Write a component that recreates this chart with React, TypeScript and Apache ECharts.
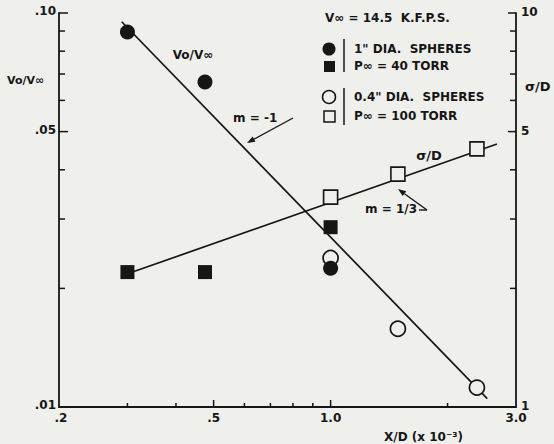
import React, { useEffect, useRef } from "react";
import * as echarts from "echarts";

// ---- data ----
const xOneInch = [0.3, 0.475, 1.0];
const vOneInch = [0.0895, 0.0668, 0.0225];
const xPointFour = [1.0, 1.49, 2.38];
const vPointFour = [0.0239, 0.0158, 0.0112];
const xForty = [0.3, 0.475, 1.0];
const sForty = [2.2, 2.2, 2.86];
const xHundred = [1.0, 1.49, 2.38];
const sHundred = [3.41, 3.9, 4.52];
const vFitX = [0.29, 2.53];
const vFitY = [0.095, 0.0105];
const sFitX = [0.289, 2.68];
const sFitY = [2.15, 4.65];

const xTickValues = [0.2, 0.3, 0.4, 0.5, 0.6, 0.7, 0.8, 0.9, 1.0, 2.0, 3.0];
const xTickLabels = [".2", "", "", ".5", "", "", "", "", "1.0", "", "3.0"];
const xTickMajor = [1, 0, 0, 1, 0, 0, 0, 0, 1, 0, 1];
const leftTickValues = [0.01, 0.02, 0.03, 0.04, 0.05, 0.06, 0.07, 0.08, 0.09, 0.1];
const leftTickLabels = [".01", "", "", "", ".05", "", "", "", "", ".10"];
const rightTickValues = [1, 2, 3, 4, 5, 6, 7, 8, 9, 10];
const rightTickLabels = ["1", "", "", "", "5", "", "", "", "", "10"];

const BG = "#efefec";
const INK = "#161616";
const FONT = "DejaVu Sans";
const F = (size: number) => `bold ${size}px "${FONT}"`;

function arrow(ax: number, ay: number, bx: number, by: number) {
  const dx = bx - ax, dy = by - ay;
  const len = Math.hypot(dx, dy);
  const ux = dx / len, uy = dy / len;
  const px = -uy, py = ux;
  const hx = bx - 8 * ux, hy = by - 8 * uy;
  return [
    { type: "line", shape: { x1: ax, y1: ay, x2: hx, y2: hy }, style: { stroke: INK, lineWidth: 1.4 } },
    {
      type: "polygon",
      shape: { points: [[bx, by], [hx + 3 * px, hy + 3 * py], [hx - 3 * px, hy - 3 * py]] },
      style: { fill: INK },
    },
  ];
}

function txt(x: number, y: number, text: string, align = "left", size = 12) {
  return {
    type: "text",
    x,
    y,
    style: { text, fill: INK, font: F(size), align, verticalAlign: "middle" },
  };
}

export default function App() {
  const ref = useRef<HTMLDivElement>(null);
  useEffect(() => {
    if (!ref.current) return;
    const chart = echarts.init(ref.current, null, { renderer: "svg" });
    const X_MIN = 0.2, X_MAX = 3.0;

    const tickSeries = (
      values: number[],
      labels: string[],
      axis: "x" | "left" | "right",
      yAxisIndex: number
    ) => ({
      type: "custom",
      yAxisIndex,
      silent: true,
      clip: false,
      z: 5,
      data: values.map((v, i) =>
        axis === "x" ? [v, 0.01, i] : axis === "left" ? [X_MIN, v, i] : [X_MAX, v, i]
      ),
      renderItem: (params: any, api: any) => {
        const i = api.value(2);
        const p = api.coord([api.value(0), api.value(1)]);
        const label = labels[i];
        const children: any[] = [];
        if (axis === "x") {
          const len = xTickMajor[i] ? 7 : 4;
          if (i !== 0 && i !== values.length - 1)
            children.push({ type: "line", shape: { x1: p[0], y1: p[1], x2: p[0], y2: p[1] - len }, style: { stroke: INK, lineWidth: 1.5 } });
          if (label)
            children.push({ type: "text", x: p[0] + (i === 0 ? 2 : 0), y: p[1] + 5, style: { text: label, fill: INK, font: F(12), align: "center", verticalAlign: "top" } });
        } else if (axis === "left") {
          const len = label ? 9 : 6;
          if (i !== 0)
            children.push({ type: "line", shape: { x1: p[0], y1: p[1], x2: p[0] + len, y2: p[1] }, style: { stroke: INK, lineWidth: 1.5 } });
          if (label)
            children.push({ type: "text", x: p[0] - 3, y: p[1] - 2, style: { text: label, fill: INK, font: F(12), align: "right", verticalAlign: "middle" } });
        } else {
          const len = label ? 8 : 6;
          if (i !== 0)
            children.push({ type: "line", shape: { x1: p[0], y1: p[1], x2: p[0] - len, y2: p[1] }, style: { stroke: INK, lineWidth: 1.5 } });
          if (label)
            children.push({ type: "text", x: p[0] + 5, y: p[1] - 1, style: { text: label, fill: INK, font: F(12), align: "left", verticalAlign: "middle" } });
        }
        return { type: "group", children };
      },
    });

    const axisLine = { show: true, onZero: false, lineStyle: { color: INK, width: 1.8 } };
    const hidden = {
      axisTick: { show: false },
      axisLabel: { show: false },
      splitLine: { show: false },
      minorTick: { show: false },
      minorSplitLine: { show: false },
    };

    chart.setOption({
      animation: false,
      backgroundColor: BG,
      grid: { left: 59, right: 38, top: 13, bottom: 37 },
      xAxis: { type: "log", logBase: 10, min: X_MIN, max: X_MAX, axisLine, ...hidden },
      yAxis: [
        { type: "log", logBase: 10, min: 0.01, max: 0.1, position: "left", axisLine, ...hidden },
        { type: "log", logBase: 10, min: 1, max: 10, position: "right", axisLine, ...hidden },
      ],
      series: [
        {
          type: "line",
          yAxisIndex: 0,
          data: vFitX.map((x, i) => [x, vFitY[i]]),
          symbol: "none",
          lineStyle: { color: INK, width: 1.7 },
          z: 2,
        },
        {
          type: "line",
          yAxisIndex: 1,
          data: sFitX.map((x, i) => [x, sFitY[i]]),
          symbol: "none",
          lineStyle: { color: INK, width: 1.7 },
          z: 2,
        },
        {
          type: "scatter",
          yAxisIndex: 0,
          data: xPointFour.map((x, i) => [x, vPointFour[i]]),
          symbol: "circle",
          symbolSize: 15,
          itemStyle: { color: BG, borderColor: INK, borderWidth: 1.7, opacity: 1 },
          z: 3,
        },
        {
          type: "scatter",
          yAxisIndex: 0,
          data: xOneInch.map((x, i) => [x, vOneInch[i]]),
          symbol: "circle",
          symbolSize: 15,
          itemStyle: { color: INK, opacity: 1 },
          z: 4,
        },
        {
          type: "scatter",
          yAxisIndex: 1,
          data: xHundred.map((x, i) => [x, sHundred[i]]),
          symbol: "rect",
          symbolSize: 14,
          itemStyle: { color: BG, borderColor: INK, borderWidth: 1.6, opacity: 1 },
          z: 3,
        },
        {
          type: "scatter",
          yAxisIndex: 1,
          data: xForty.map((x, i) => [x, sForty[i]]),
          symbol: "rect",
          symbolSize: 14,
          itemStyle: { color: INK, opacity: 1 },
          z: 4,
        },
        tickSeries(xTickValues, xTickLabels, "x", 0),
        tickSeries(leftTickValues, leftTickLabels, "left", 0),
        tickSeries(rightTickValues, rightTickLabels, "right", 1),
      ],
      graphic: [
        // axis titles
        txt(7, 80, "Vo/V\u221e", "left", 11),
        txt(525, 86, "\u03c3/D", "left", 13),
        txt(384, 437, "X/D (x 10\u207b\u00b3)", "left", 12),
        // annotations
        txt(193, 55, "Vo/V\u221e", "center", 12),
        txt(233, 118, "m = -1", "left", 12),
        ...arrow(293, 118, 247, 143),
        txt(429, 155, "\u03c3/D", "center", 13),
        txt(365, 209, "m = 1/3", "left", 12),
        { type: "line", shape: { x1: 419, y1: 210, x2: 427, y2: 210 }, style: { stroke: INK, lineWidth: 1.4 } },
        ...arrow(427, 210, 398, 189),
        // legend
        txt(325, 18, "V\u221e = 14.5  K.F.P.S.", "left", 12),
        { type: "circle", shape: { cx: 329, cy: 49, r: 6.5 }, style: { fill: INK } },
        { type: "rect", shape: { x: 324, y: 61, width: 11, height: 11 }, style: { fill: INK } },
        { type: "line", shape: { x1: 344, y1: 39, x2: 344, y2: 72 }, style: { stroke: INK, lineWidth: 1.5 } },
        txt(354, 49, "1\" DIA.  SPHERES", "left", 12),
        txt(354, 66, "P\u221e = 40 TORR", "left", 12),
        { type: "circle", shape: { cx: 329, cy: 97, r: 6.5 }, style: { fill: BG, stroke: INK, lineWidth: 1.5 } },
        { type: "rect", shape: { x: 324, y: 111, width: 11, height: 11 }, style: { fill: BG, stroke: INK, lineWidth: 1.5 } },
        { type: "line", shape: { x1: 344, y1: 88, x2: 344, y2: 125 }, style: { stroke: INK, lineWidth: 1.5 } },
        txt(354, 97, "0.4\" DIA.  SPHERES", "left", 12),
        txt(354, 116, "P\u221e = 100 TORR", "left", 12),
      ],
    });
    return () => chart.dispose();
  }, []);
  return (
    <div
      ref={ref}
      style={{ position: "absolute", left: 0, top: 0, width: 554, height: 444 }}
    />
  );
}
